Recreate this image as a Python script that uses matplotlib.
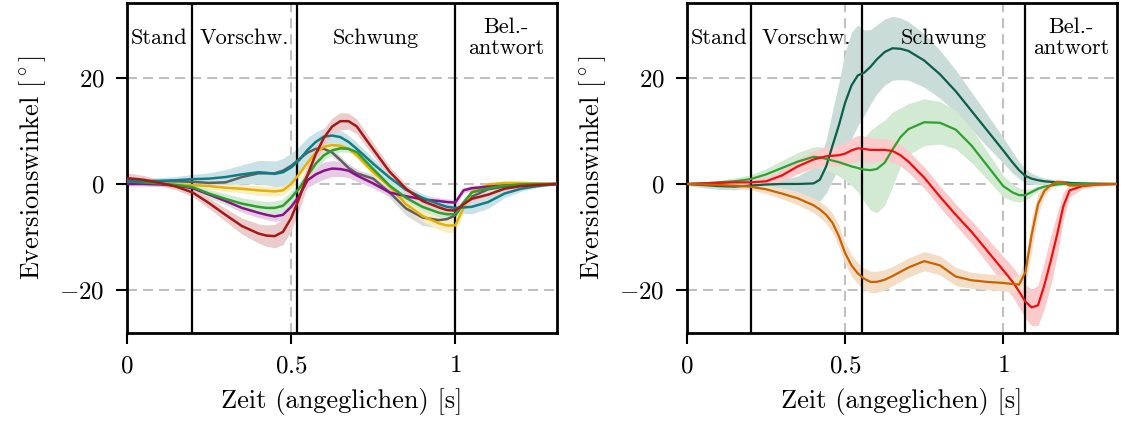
import numpy as np
import matplotlib
matplotlib.use("Agg")
import matplotlib.pyplot as plt
from matplotlib.colors import to_rgb

plt.rcParams['font.family'] = 'serif'
plt.rcParams['font.serif'] = ['cmr10', 'DejaVu Serif']
plt.rcParams['mathtext.fontset'] = 'cm'
plt.rcParams['axes.unicode_minus'] = False

# ---- left panel: mean curves and band half-widths ----
t_l = [0, 0.05, 0.1, 0.15, 0.2, 0.25, 0.3, 0.35, 0.4, 0.425, 0.45, 0.475, 0.5, 0.525,
       0.55, 0.575, 0.6, 0.625, 0.65, 0.675, 0.7, 0.75, 0.8, 0.85, 0.9, 0.95, 0.975,
       1.0, 1.025, 1.05, 1.1, 1.15, 1.2, 1.25, 1.31]

gray_l = [0.8, 0.6, 0.5, 0.5, 0.4, 0.2, 0.3, 1.3, 2.0, 2.0, 2.0, 2.5, 3.4, 4.7,
          5.9, 6.6, 6.6, 5.9, 4.5, 3.0, 2.0, 1.0, -1.6, -4.6, -6.3, -6.8, -6.6,
          -5.9, -3.7, -2.4, -1.0, -0.5, -0.2, -0.1, 0]
gray_s = [0.5, 0.4, 0.4, 0.4, 0.5, 0.6, 0.7, 0.8, 0.9, 1.0, 1.1, 1.3, 1.5, 1.5,
          1.3, 1.0, 0.8, 0.7, 0.7, 0.7, 0.7, 0.8, 1.0, 1.3, 1.5, 1.5, 1.4,
          1.2, 0.9, 0.7, 0.5, 0.4, 0.3, 0.2, 0.1]
teal_l = [0.5, 0.5, 0.6, 0.7, 0.9, 1.0, 1.3, 1.8, 2.2, 2.1, 1.9, 2.2, 3.1, 4.5,
          6.4, 7.9, 8.9, 9.1, 8.8, 7.9, 6.6, 3.8, 1.2, -1.1, -2.6, -3.8, -4.3,
          -4.5, -4.4, -4.3, -3.4, -1.8, -0.9, -0.4, 0]
teal_s = [0.4, 0.5, 0.6, 0.7, 0.9, 1.1, 1.4, 1.8, 2.2, 2.3, 2.4, 2.6, 2.7, 2.6,
          2.3, 1.9, 1.6, 1.4, 1.3, 1.2, 1.2, 1.0, 0.9, 0.8, 0.8, 0.8, 0.8,
          0.9, 1.1, 1.3, 1.2, 0.8, 0.5, 0.3, 0.1]
yell_l = [0.3, 0.2, 0.1, -0.1, -0.2, -0.4, -0.7, -0.9, -1.2, -1.3, -1.4, -1.2, 0.0, 1.9,
          4.0, 5.9, 7.0, 7.3, 7.2, 6.6, 5.4, 2.2, -0.5, -3.8, -6.0, -7.4, -7.8,
          -7.8, -4.5, -1.5, -0.1, 0.2, 0.2, 0.1, 0]
yell_s = [0.4, 0.4, 0.4, 0.4, 0.5, 0.6, 0.7, 0.8, 0.9, 0.9, 0.9, 0.9, 0.9, 0.9,
          0.8, 0.8, 0.7, 0.7, 0.6, 0.6, 0.6, 0.6, 0.7, 0.8, 1.0, 1.2, 1.3,
          1.3, 1.0, 0.7, 0.4, 0.3, 0.3, 0.2, 0.1]
green_l = [0.5, 0.3, 0.1, -0.2, -0.6, -1.8, -2.8, -3.7, -4.3, -4.5, -4.5, -4.1, -2.6, -0.8,
           1.6, 3.8, 5.4, 6.3, 6.7, 6.6, 6.0, 2.8, -0.3, -2.6, -4.3, -5.4, -5.7,
           -5.7, -3.5, -1.6, -0.8, -0.3, -0.1, 0, 0]
green_s = [0.4, 0.4, 0.4, 0.5, 0.6, 0.8, 1.0, 1.1, 1.2, 1.2, 1.3, 1.3, 1.3, 1.2,
           1.1, 1.0, 0.9, 0.8, 0.7, 0.6, 0.6, 0.6, 0.6, 0.6, 0.6, 0.7, 0.7,
           0.7, 0.6, 0.5, 0.4, 0.3, 0.3, 0.2, 0.1]
purp_l = [0.0, 0.0, -0.1, -0.3, -0.8, -2.0, -3.2, -4.5, -5.4, -5.8, -6.1, -5.8, -4.3, -2.2,
          0.7, 1.8, 2.5, 2.9, 2.8, 2.5, 1.6, 0.1, -1.6, -2.3, -2.9, -3.2, -3.4,
          -3.5, -1.2, -0.8, -0.5, -0.3, -0.2, -0.1, 0]
purp_s = [0.4, 0.4, 0.4, 0.4, 0.5, 0.6, 0.7, 0.8, 0.9, 0.9, 0.9, 1.0, 1.1, 1.2,
          1.4, 1.6, 1.6, 1.5, 1.4, 1.3, 1.1, 0.9, 0.8, 0.7, 0.7, 0.6, 0.6,
          0.6, 0.5, 0.5, 0.4, 0.3, 0.2, 0.2, 0.1]
red_l = [1.1, 0.8, 0.2, -0.5, -1.6, -3.6, -5.8, -7.9, -9.3, -9.7, -9.8, -9.0, -6.4, -2.6,
         1.7, 5.6, 8.7, 10.8, 11.8, 11.8, 10.8, 6.5, 2.3, -0.9, -3.2, -4.4, -4.9,
         -5.0, -3.8, -2.8, -2.0, -0.9, -0.4, -0.2, 0]
red_s = [1.0, 0.8, 0.6, 0.6, 0.8, 1.0, 1.2, 1.5, 1.8, 2.0, 2.2, 2.4, 2.4, 2.2,
         2.0, 1.8, 1.7, 1.6, 1.6, 1.5, 1.4, 1.2, 1.0, 0.8, 0.6, 0.5, 0.5,
         0.5, 0.5, 0.5, 0.4, 0.3, 0.2, 0.2, 0.1]

# ---- right panel ----
t_r = [0, 0.05, 0.1, 0.15, 0.2, 0.25, 0.3, 0.35, 0.4, 0.42, 0.44, 0.46, 0.48, 0.5,
       0.52, 0.54, 0.56, 0.58, 0.6, 0.625, 0.65, 0.675, 0.7, 0.75, 0.8, 0.85, 0.9,
       0.95, 1.0, 1.03, 1.05, 1.07, 1.09, 1.11, 1.13, 1.15, 1.17, 1.19, 1.21, 1.25,
       1.3, 1.36]

dkgr_r = [0, -0.2, -0.4, -0.5, -0.3, -0.1, 0, 0, 0.1, 0.8, 3.3, 7.2, 11.0, 15.3,
          18.5, 20.4, 20.9, 22.0, 23.4, 24.8, 25.5, 25.4, 25.0, 23.2, 20.6, 17.4, 13.7,
          10.0, 6.3, 4.0, 2.6, 1.5, 1.0, 0.7, 0.5, 0.4, 0.3, 0.3, 0.2, 0.1,
          0.05, 0]
dkgr_s = [0.3, 0.5, 0.6, 0.6, 0.4, 0.5, 0.8, 1.5, 3.0, 4.0, 5.0, 6.5, 8.0, 9.5,
          10.0, 9.5, 8.0, 7.0, 6.5, 6.2, 6.0, 5.8, 5.5, 5.0, 4.5, 4.0, 3.5,
          3.0, 2.4, 2.0, 1.6, 1.3, 1.0, 0.8, 0.6, 0.5, 0.4, 0.4, 0.3, 0.3,
          0.2, 0.1]
gr_r = [0, 0.1, 0.3, 0.5, 0.9, 1.8, 3.0, 4.2, 5.1, 5.0, 4.7, 4.4, 4.1, 3.7,
        3.3, 3.0, 2.7, 2.6, 2.8, 4.0, 6.5, 8.8, 10.3, 11.6, 11.5, 10.2, 7.2,
        3.4, -0.4, -1.6, -2.1, -2.1, -1.5, -0.9, -0.5, -0.3, -0.1, 0, 0, 0,
        0, 0]
gr_s = [0.2, 0.3, 0.4, 0.6, 0.8, 1.1, 1.4, 1.7, 1.9, 2.0, 2.1, 2.3, 2.6, 3.0,
        3.6, 4.5, 6.0, 7.5, 8.2, 8.0, 7.0, 5.5, 4.8, 4.4, 4.0, 3.6, 3.2,
        2.6, 2.0, 1.6, 1.3, 1.0, 0.7, 0.5, 0.4, 0.3, 0.3, 0.2, 0.2, 0.2,
        0.1, 0.1]
rd_r = [0, 0.1, 0.2, 0.3, 0.3, 0.5, 1.6, 3.3, 4.6, 4.9, 5.2, 5.3, 5.4, 5.7,
        6.3, 6.7, 6.6, 6.4, 6.4, 6.4, 6.2, 5.4, 4.2, 1.2, -2.4, -5.8, -9.0,
        -12.6, -16.2, -18.4, -20.2, -22.1, -23.2, -22.8, -19.0, -14.5, -9.6, -4.2, -1.2, -0.4,
        -0.1, 0]
rd_s = [0.3, 0.3, 0.3, 0.4, 0.5, 0.8, 1.1, 1.4, 1.6, 1.7, 1.8, 1.9, 2.0, 2.1,
        2.3, 2.4, 2.4, 2.3, 2.2, 2.1, 2.0, 2.0, 2.0, 2.0, 2.0, 2.0, 2.1,
        2.3, 2.6, 2.8, 3.0, 3.2, 3.4, 3.8, 4.4, 4.6, 4.0, 2.6, 1.2, 0.5,
        0.3, 0.1]
or_r = [0, -0.1, -0.2, -0.3, -0.5, -1.0, -1.8, -2.7, -4.0, -4.8, -5.8, -7.3, -9.8, -13.0,
        -15.3, -16.8, -17.8, -18.4, -18.4, -18.0, -17.3, -16.5, -15.7, -14.5, -15.3, -17.4, -18.1,
        -18.4, -18.6, -18.8, -18.9, -16.6, -9.5, -3.8, -1.3, -0.2, 0.4, 0.3, -0.3, -0.3,
        -0.1, 0]
or_s = [0.2, 0.3, 0.4, 0.5, 0.6, 0.8, 1.0, 1.2, 1.4, 1.5, 1.6, 1.8, 2.0, 2.0,
        2.0, 2.0, 2.0, 2.0, 2.0, 1.9, 1.8, 1.8, 1.8, 1.8, 1.8, 1.7, 1.5,
        1.5, 1.5, 1.5, 1.6, 2.5, 3.0, 2.0, 1.0, 0.6, 0.5, 0.4, 0.4, 0.3,
        0.2, 0.1]

phases = ['Stand', 'Vorschw.', 'Schwung', 'Bel.-\nantwort']
bounds_l = [0.198, 0.518, 1.0]
bounds_r = [0.203, 0.554, 1.07]

left_series = [(gray_l, gray_s, '#5f5f5f'), (yell_l, yell_s, '#e8b000'),
               (purp_l, purp_s, '#8b118b'), (green_l, green_s, '#2e9e2e'),
               (teal_l, teal_s, '#0f7d88'), (red_l, red_s, '#a51818')]
right_series = [(dkgr_r, dkgr_s, '#0b5e48'), (gr_r, gr_s, '#30a030'),
                (rd_r, rd_s, '#ee1010'), (or_r, or_s, '#c86400')]

fig = plt.figure(figsize=(11.21, 4.30), dpi=100)
ax1 = fig.add_axes([0.1133, 0.2256, 0.3836, 0.7674])
ax2 = fig.add_axes([0.6129, 0.2256, 0.3836, 0.7674])


def light(c, a=0.22):
    r = np.array(to_rgb(c))
    return tuple(1 - a * (1 - r))


def setup(ax, t, series, bounds, xmax, lw):
    t = np.array(t)
    for y in [-20, 0, 20]:
        ax.axhline(y, color='#c0c0c0', lw=1.5, ls=(0, (4.8, 2.9)), zorder=0)
    for x in [0.5, 1.0]:
        ax.axvline(x, color='#c0c0c0', lw=1.5, ls=(0, (4.8, 2.9)), zorder=0)
    for m, s, c in series:
        m = np.array(m)
        s = np.array(s)
        ax.fill_between(t, m - s, m + s, color=light(c), lw=0, zorder=1)
    for b in bounds:
        ax.axvline(b, color='black', lw=1.6, zorder=2)
    for m, s, c in series:
        ax.plot(t, m, color=c, lw=lw, zorder=3, solid_joinstyle='round')
    edges = [0] + bounds + [xmax]
    for i, name in enumerate(phases):
        ax.text((edges[i] + edges[i + 1]) / 2, 27.4, name, ha='center', va='center',
                fontsize=16, linespacing=1.1, zorder=4)
    ax.set_xlim(0, xmax)
    ax.set_ylim(-28, 34)
    ax.set_xticks([0, 0.5, 1])
    ax.set_xticklabels(['$0$', '$0.5$', '$1$'])
    ax.set_yticks([-20, 0, 20])
    ax.set_yticklabels(['$-20$', '$0$', '$20$'])
    ax.tick_params(direction='out', length=8, width=1.5, labelsize=18, pad=8)
    for sp in ax.spines.values():
        sp.set_linewidth(2)
    ax.set_xlabel('Zeit (angeglichen) [s]', fontsize=19, labelpad=8)
    ax.set_ylabel('Eversionswinkel $[^\\circ]$', fontsize=19, labelpad=8)


setup(ax1, t_l, left_series, bounds_l, 1.31, 1.8)
setup(ax2, t_r, right_series, bounds_r, 1.36, 1.6)

fig.savefig('out.png', dpi=100)
